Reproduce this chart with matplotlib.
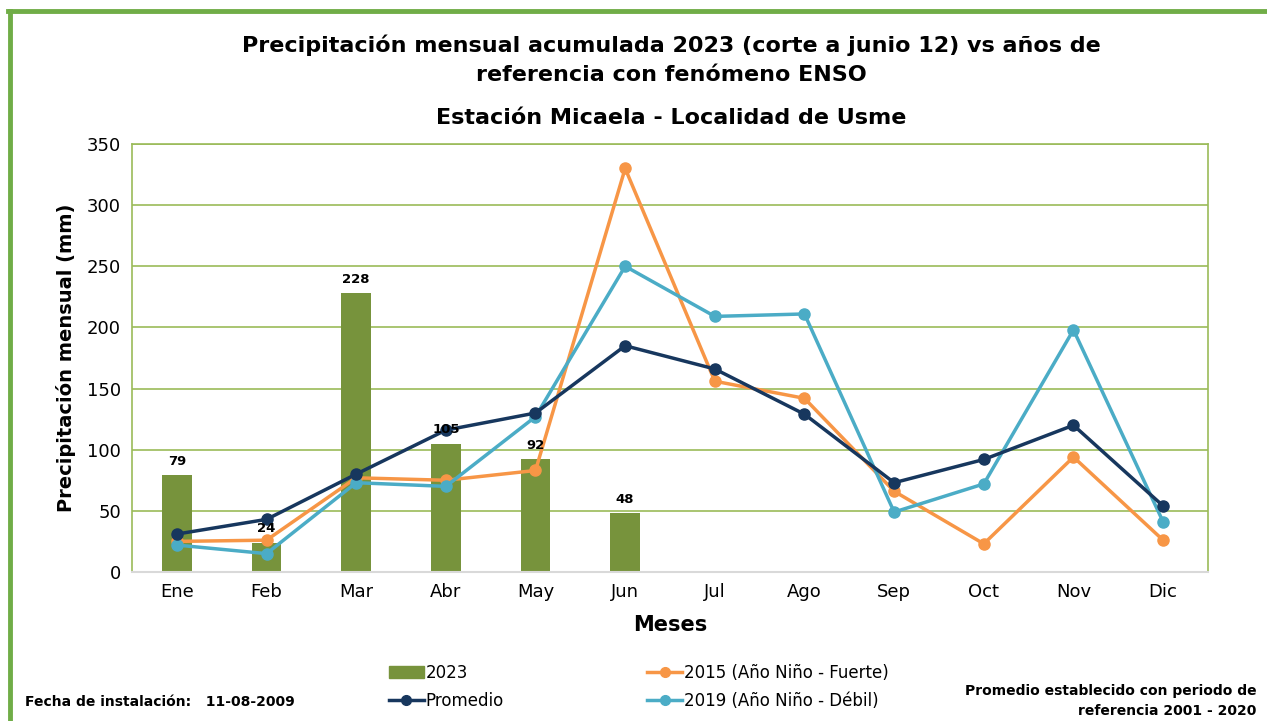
import matplotlib.pyplot as plt
import numpy as np
from matplotlib.lines import Line2D

meses = ['Ene', 'Feb', 'Mar', 'Abr', 'May', 'Jun', 'Jul', 'Ago', 'Sep', 'Oct', 'Nov', 'Dic']
lluvia_2023 = [79, 24, 228, 105, 92, 48]
promedio = [31, 43, 80, 116, 130, 185, 166, 129, 73, 92, 120, 54]
anio_2015 = [25, 26, 77, 75, 83, 330, 156, 142, 66, 23, 94, 26]
anio_2019 = [22, 15, 73, 70, 127, 250, 209, 211, 49, 72, 198, 41]

c_bar = '#77933C'
c_prom = '#17375E'
c_2015 = '#F79646'
c_2019 = '#4BACC6'
c_grid = '#9BBB59'

plt.rcParams['font.family'] = ['DejaVu Sans']

fig = plt.figure(figsize=(12.67, 7.21), dpi=100)
ax = fig.add_axes([0.1042, 0.2067, 0.8492, 0.5936])

x = np.arange(len(meses))
ax.bar(x[:len(lluvia_2023)], lluvia_2023, width=0.33, color=c_bar, zorder=2, label='2023')
for xi, v in zip(x, lluvia_2023):
    ax.text(xi, v + 6, str(v), ha='center', va='bottom', fontsize=9.5, fontweight='bold', zorder=5)

ax.plot(x, promedio, color=c_prom, lw=2.5, marker='o', ms=8, zorder=4, label='Promedio')
ax.plot(x, anio_2015, color=c_2015, lw=2.5, marker='o', ms=8, zorder=3, label='2015 (Año Niño - Fuerte)')
ax.plot(x, anio_2019, color=c_2019, lw=2.5, marker='o', ms=8, zorder=3, label='2019 (Año Niño - Débil)')

ax.set_xlim(-0.5, 11.5)
ax.set_ylim(0, 350)
ax.set_yticks(range(0, 351, 50))
ax.set_xticks(x)
ax.set_xticklabels(meses)
ax.tick_params(axis='both', length=0, labelsize=13, pad=8)
ax.yaxis.grid(True, color=c_grid, lw=1.2, zorder=0)
ax.set_axisbelow(True)
for s in ['top', 'right', 'left']:
    ax.spines[s].set_color(c_grid)
    ax.spines[s].set_linewidth(1.2)
ax.spines['bottom'].set_color('#D9D9D9')
ax.spines['bottom'].set_linewidth(1.5)

ax.set_ylabel('Precipitación mensual (mm)', fontsize=14, fontweight='bold', labelpad=8)
ax.set_xlabel('Meses', fontsize=15, fontweight='bold', labelpad=10)

fig.text(0.53, 0.917, 'Precipitación mensual acumulada 2023 (corte a junio 12) vs años de\nreferencia con fenómeno ENSO',
         ha='center', va='center', fontsize=16, fontweight='bold', linespacing=1.6)
fig.text(0.53, 0.836, 'Estación Micaela - Localidad de Usme', ha='center', va='center',
         fontsize=16, fontweight='bold')

handles = [
    plt.Rectangle((0, 0), 1, 1, color=c_bar),
    Line2D([], [], color=c_prom, lw=2.5, marker='o', ms=7),
    Line2D([], [], color=c_2015, lw=2.5, marker='o', ms=7),
    Line2D([], [], color=c_2019, lw=2.5, marker='o', ms=7),
]
labels = ['2023', 'Promedio', '2015 (Año Niño - Fuerte)', '2019 (Año Niño - Débil)']
fig.legend(handles, labels, ncol=2, loc='center left', bbox_to_anchor=(0.295, 0.047),
           frameon=False, fontsize=12, columnspacing=8.6, handlelength=2.1,
           handletextpad=0.1, labelspacing=0.6)

fig.text(0.02, 0.026, 'Fecha de instalación:   11-08-2009', ha='left', va='center',
         fontsize=10, fontweight='bold')
fig.text(0.992, 0.028, 'Promedio establecido con periodo de\nreferencia 2001 - 2020', ha='right',
         va='center', fontsize=10, fontweight='bold', multialignment='right', linespacing=1.5)

# green frame on the top and left edges
fig.add_artist(Line2D([0.008, 0.008], [0, 0.985], transform=fig.transFigure, color='#70AD47', lw=3.5))
fig.add_artist(Line2D([0.006, 1.0], [0.985, 0.985], transform=fig.transFigure, color='#70AD47', lw=3.5))

fig.savefig('out.png', dpi=100)
